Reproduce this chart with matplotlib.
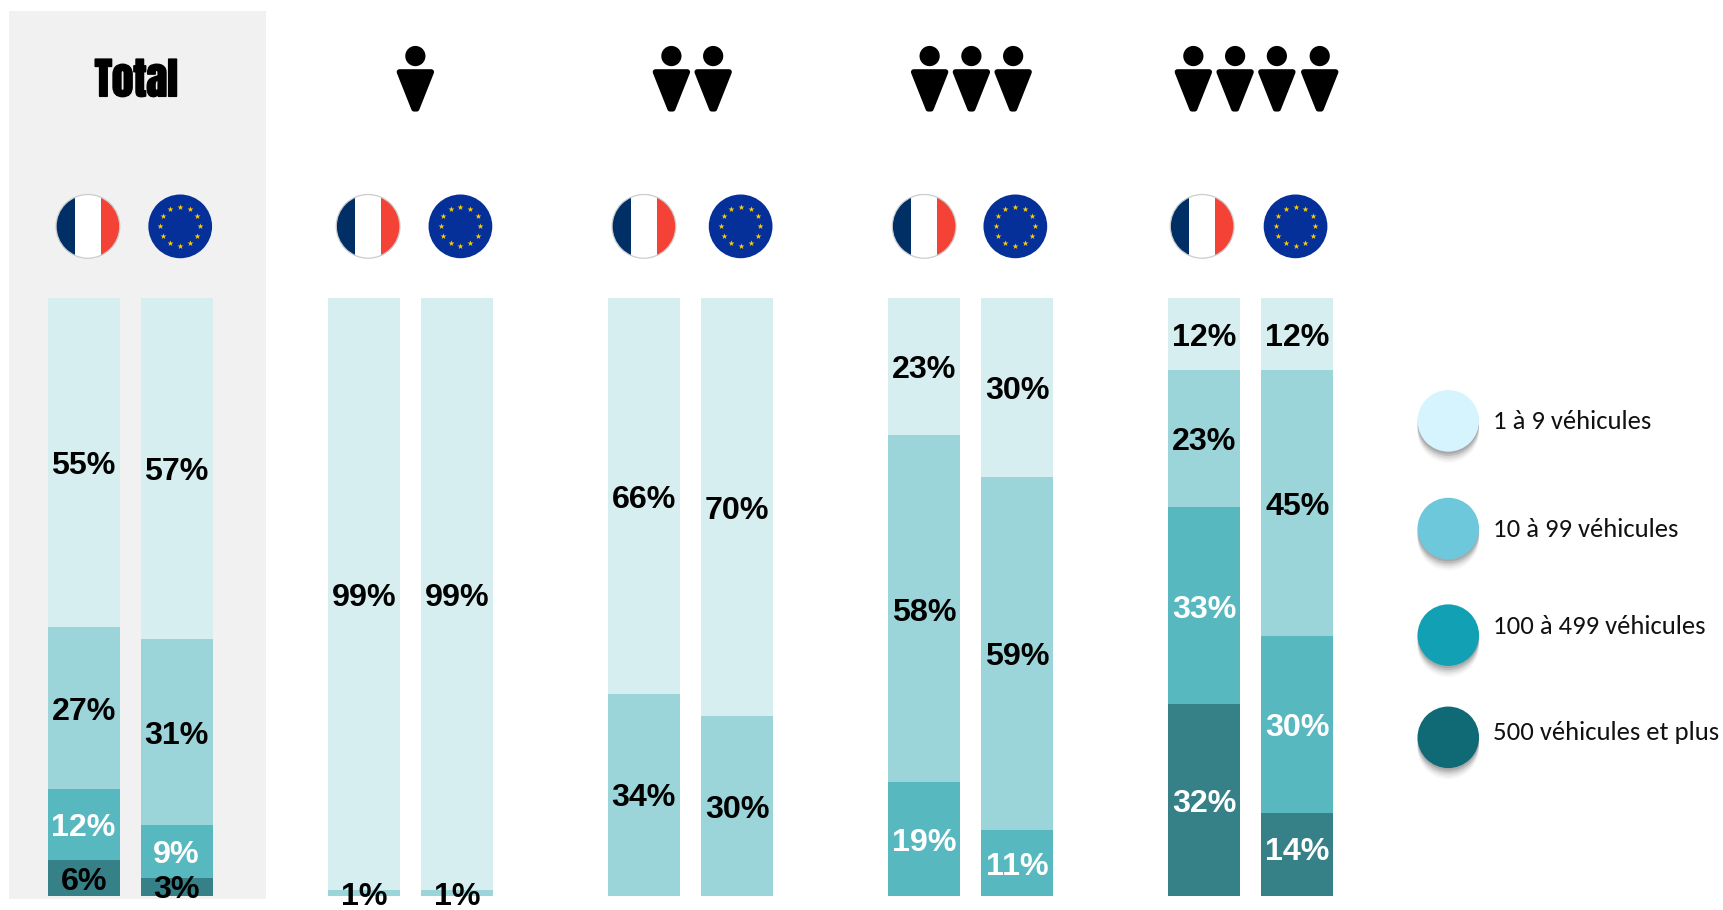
import numpy as np
import matplotlib.pyplot as plt
from matplotlib.patches import Circle, Rectangle, Polygon
import matplotlib.patheffects as pe

#---------data-----------
groups = ["Total", "1", "2", "3", "4"]
france = [[55.1, 27, 12, 5.9], [99, 1, 0, 0], [66.2, 33.8, 0, 0], [23, 58, 19, 0], [12, 23, 33, 32]]
europe = [[57, 31.2, 8.8, 3], [99, 1, 0, 0], [70, 30, 0, 0], [30, 59, 11, 0], [12, 44.6, 29.6, 13.8]]
legend_labels = ["1 à 9 véhicules", "10 à 99 véhicules", "100 à 499 véhicules", "500 véhicules et plus"]

seg_colors = ["#D6EEEF", "#9CD5D9", "#57B8BF", "#368087"]
txt_colors = ["black", "black", "white", "white"]
leg_colors = ["#D5F4FD", "#6EC8DC", "#12A0B5", "#0F6A76"]

S = 1723 / 1568
W, H = 1723, 910

#---------positions (measured on a 1568 wide view)-----------
bar_left_fr = [43.4, 298.4, 553.2, 808, 1063]
bar_left_eu = [128, 383, 638, 893, 1148]
bar_w = 65.5
flag_fr_x = [80, 335, 586, 841, 1094]
flag_eu_x = [164, 419, 674, 924, 1179]
person_x = [[], [378], [611, 649], [846, 884, 922], [1086, 1124, 1162, 1201]]
leg_y = [383, 481, 578, 671]
leg_text_y = [384, 482, 570, 667]

# label nudges (group, side, segment) -> dy in y units
shift = -0.65
nudge = {(1, 0, 1): -0.05, (1, 1, 1): -0.15, (4, 1, 3): 1.0}

fig = plt.figure(figsize=(W / 100, H / 100), dpi=100)

#--------------------overlay axes in pixels-----------
deco = fig.add_axes([0, 0, 1, 1], zorder=0)
deco.set_xlim(0, W)
deco.set_ylim(H, 0)
deco.axis("off")

deco.add_patch(Rectangle((8 * S, 10 * S), 234 * S, 808 * S, fc="#F1F1F1", ec="none"))


def draw_france(cx, cy, r):
    clip = Circle((cx, cy), r, transform=deco.transData)
    for x0, w, c in [(-1, 0.6, "#002F66"), (-0.4, 0.8, "white"), (0.4, 0.6, "#F44336")]:
        p = deco.add_patch(Rectangle((cx + x0 * r, cy - r), w * r, 2 * r, fc=c, ec="none"))
        p.set_clip_path(clip)
    deco.add_patch(Circle((cx, cy), r, fc="none", ec="#CCCCCC", lw=0.9))


def draw_europe(cx, cy, r):
    deco.add_patch(Circle((cx, cy), r, fc="#05309A", ec="none"))
    ang = np.deg2rad(np.arange(0, 360, 30))
    deco.scatter(cx + 0.62 * r * np.cos(ang), cy + 0.62 * r * np.sin(ang), marker="*",
                 s=20, c="#FFCC00", linewidths=0, zorder=3)


def draw_person(cx):
    # head and rounded triangle body
    deco.add_patch(Circle((cx, 51 * S), 9.2 * S, fc="black", ec="none"))
    deco.add_patch(Polygon([(cx - 14.5 * S, 65.5 * S), (cx + 14.5 * S, 65.5 * S), (cx + 1.2 * S, 99 * S), (cx - 1.2 * S, 99 * S)],
                           closed=True, fc="black", ec="black", lw=4, joinstyle="round"))


for i in range(len(groups)):
    draw_france(flag_fr_x[i] * S, 206 * S, 29 * S)
    draw_europe(flag_eu_x[i] * S, 206 * S, 29 * S)
    for px in person_x[i]:
        draw_person(px * S)

deco.text(124 * S, 73 * S, "Total", ha="center", va="center", fontsize=31,
          family=["Anton", "DejaVu Sans"], color="black",
          path_effects=[pe.withStroke(linewidth=1.2, foreground="black")])

#--------------------stacked bars-----------
bars = fig.add_axes([0, (910 - 815 * S) / 910, 1, 544 * S / 910], zorder=1)
bars.set_xlim(0, W)
bars.set_ylim(0, 100)
bars.axis("off")


def stacked(values, left, i, side):
    top = 100
    for k, v in enumerate(values):
        if v == 0:
            continue
        bars.bar((left + bar_w / 2) * S, v, width=bar_w * S, bottom=top - v, color=seg_colors[k],
                 edgecolor="none")
        col = txt_colors[k]
        # the small 6% and 3% and 1% labels stay black
        if v < 7 or (i == 0 and k == 3):
            col = "black"
        y = top - v / 2 + shift + nudge.get((i, side, k), 0)
        bars.text((left + bar_w / 2) * S, y, f"{v:.0f}%", ha="center", va="center", fontsize=23.2,
                  fontweight="bold", family="Liberation Sans", color=col, clip_on=False)
        top -= v


for i in range(len(groups)):
    stacked(france[i], bar_left_fr[i], i, 0)
    stacked(europe[i], bar_left_eu[i], i, 1)

#--------------------legend-----------
for lab, c, y, ty in zip(legend_labels, leg_colors, leg_y, leg_text_y):
    for off, a in [(10, 0.05), (8, 0.08), (6, 0.12), (4, 0.18), (2, 0.2)]:
        deco.add_patch(Circle((1318 * S, (y + off) * S), 28 * S, fc="#555555", ec="none", alpha=a))
    deco.add_patch(Circle((1318 * S, y * S), 28 * S, fc=c, ec="none"))
    deco.text(1359 * S, ty * S, lab, ha="left", va="center", fontsize=19.2,
              family=["Carlito", "Lato"], color="#111111")

fig.savefig("out.png", dpi=100)
